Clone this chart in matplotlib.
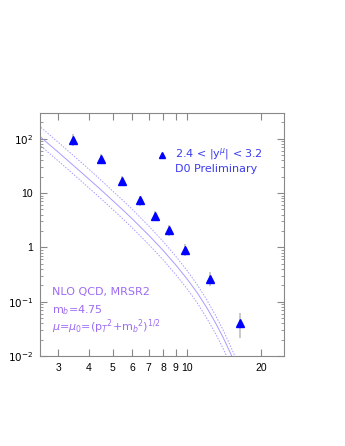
import numpy as np
import matplotlib.pyplot as plt
from matplotlib.ticker import FixedLocator, NullFormatter, LogLocator

plt.rcParams['font.family'] = ['Liberation Sans', 'DejaVu Sans']
plt.rcParams['mathtext.fontset'] = 'dejavusans'

# D0 data points
pt_data = [3.44, 4.47, 5.44, 6.46, 7.43, 8.47, 9.8, 12.4, 16.5]
sig_data = [96, 42.6, 16.9, 7.6, 3.75, 2.07, 0.88, 0.256, 0.040]
sig_hi = [124, 53, 20.6, 9.0, 4.6, 2.6, 1.14, 0.35, 0.063]
sig_lo = [74, 34, 13.4, 5.8, 3.0, 1.6, 0.70, 0.19, 0.021]

# NLO QCD theory band (central, upper, lower)
pt_th = [2.5, 3, 3.5, 4, 4.5, 5, 5.5, 6, 7, 8, 9, 10, 11, 12, 13, 14, 15, 16]
th_central = [115, 56.5, 30.7, 18.0, 11.2, 7.23, 4.86, 3.34, 1.67, 0.88,
              0.477, 0.264, 0.147, 0.0796, 0.0425, 0.0224, 0.0115, 0.0059]
th_upper = [175, 86, 46.7, 27.4, 16.9, 10.8, 7.3, 5.0, 2.47, 1.29,
            0.69, 0.378, 0.207, 0.111, 0.0587, 0.0307, 0.0156, 0.0080]
th_lower = [79, 39, 21.2, 12.4, 7.7, 4.97, 3.33, 2.28, 1.13, 0.59,
            0.318, 0.174, 0.096, 0.051, 0.027, 0.0140, 0.0072, 0.0037]

xticks = [3, 4, 5, 6, 7, 8, 9, 10, 20]
yticks = [1e-2, 1e-1, 1, 10, 100]
ylabels = [r'$10^{-2}$', r'$10^{-1}$', '1', '10', r'$10^{2}$']

fig = plt.figure(figsize=(3.45, 4.46), dpi=100)
ax = fig.add_axes([0.116, 0.202, 0.707, 0.545])

curve_col = '#a89cff'
ax.plot(pt_th, th_central, color=curve_col, lw=0.7)
ax.plot(pt_th, th_upper, color=curve_col, lw=0.7, ls=(0, (1.5, 1.5)))
ax.plot(pt_th, th_lower, color=curve_col, lw=0.7, ls=(0, (1.5, 1.5)))

sig = np.array(sig_data)
yerr = [sig - np.array(sig_lo), np.array(sig_hi) - sig]
ax.errorbar(pt_data, sig_data, yerr=yerr, fmt='none', ecolor='#c0c0c0', elinewidth=1.2)
ax.plot(pt_data, sig_data, '^', color='#0000ff', ms=5.2, mec='#0000ff')

ax.set_xscale('log')
ax.set_yscale('log')
ax.set_xlim(2.53, 24.8)
ax.set_ylim(1e-2, 300)

ax.xaxis.set_major_locator(FixedLocator(xticks))
ax.xaxis.set_minor_locator(FixedLocator([]))
ax.set_xticklabels([str(t) for t in xticks])
ax.yaxis.set_major_locator(FixedLocator(yticks))
ax.yaxis.set_minor_locator(LogLocator(base=10, subs=np.arange(2, 10)))
ax.yaxis.set_minor_formatter(NullFormatter())
ax.set_yticklabels(ylabels)

for s in ax.spines.values():
    s.set_color('#888888')
    s.set_linewidth(0.8)
ax.tick_params(which='both', direction='in', top=True, right=True, color='#888888',
               labelsize=7.5, labelcolor='black')
ax.tick_params(which='major', length=5, pad=5)
ax.tick_params(which='minor', length=2.5)

# legend for data
blue_txt = '#3b3bf0'
ax.plot([7.9], [50.5], '^', color='#0000ff', ms=4.2)
ax.text(8.94, 52.7, r'2.4 < |y$^{\mu}$| < 3.2', color=blue_txt, fontsize=8,
        va='center', family='DejaVu Sans')
ax.text(8.94, 27.5, 'D0 Preliminary', color=blue_txt, fontsize=8,
        va='center', family='DejaVu Sans')

purple = '#9c6cf2'
ax.text(2.82, 0.149, 'NLO QCD, MRSR2', color=purple, fontsize=8, va='center',
        family='DejaVu Sans')
ax.text(2.82, 0.071, r'm$_b$=4.75', color=purple, fontsize=8, va='center',
        family='DejaVu Sans')
ax.text(2.82, 0.035, r'$\mu$=$\mu_0$=(p$_T$$^2$+m$_b$$^2$)$^{1/2}$', color=purple,
        fontsize=8, va='center', family='DejaVu Sans')

fig.savefig('out.png', dpi=100)
